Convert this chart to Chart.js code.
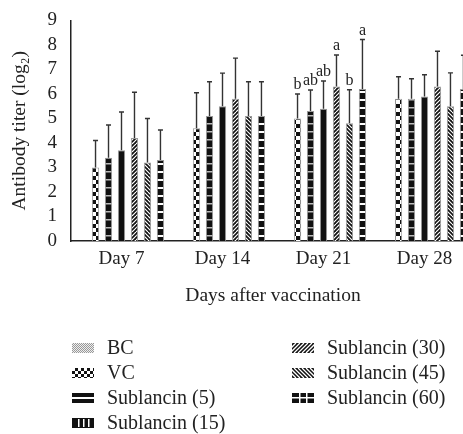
<!DOCTYPE html>
<html>
<head>
<meta charset="utf-8">
<script src="https://cdn.jsdelivr.net/npm/chart.js@4.4.1/dist/chart.umd.min.js"></script>
<style>
  body { margin: 0; background: #fff; }
  #wrap { position: relative; width: 463px; height: 434px; overflow: hidden; }
  #box { position: absolute; left: 0; top: 0; width: 480px; height: 312px; }
  #legend {
    position: absolute; left: 72px; top: 335px;
    display: grid; grid-auto-flow: column;
    grid-template-rows: repeat(4, 25px); grid-template-columns: 220px 200px;
    font-family: "Liberation Serif", serif; font-size: 20px; color: #222;
  }
  .item { display: flex; align-items: center; white-space: nowrap; }
  .item canvas { width: 22px; height: 10px; margin-right: 13px; }
</style>
</head>
<body>
<div id="wrap">
  <div id="box"><canvas id="titerChart"></canvas></div>
  <div id="legend"></div>
</div>
<script>
// data
const days = ["Day 7", "Day 14", "Day 21", "Day 28"];
const groups = ["BC", "VC", "Sublancin (5)", "Sublancin (15)", "Sublancin (30)", "Sublancin (45)", "Sublancin (60)"];

const bcMean  = [0, 0, 0, 0];
const vcMean  = [3.0, 4.6, 5.0, 5.8];
const s5Mean  = [3.4, 5.1, 5.3, 5.8];
const s15Mean = [3.7, 5.5, 5.4, 5.9];
const s30Mean = [4.2, 5.8, 6.3, 6.3];
const s45Mean = [3.2, 5.1, 4.8, 5.5];
const s60Mean = [3.3, 5.1, 6.2, 6.2];

const bcSd  = [0, 0, 0, 0];
const vcSd  = [1.1, 1.45, 1.0, 0.9];
const s5Sd  = [1.33, 1.4, 0.86, 0.82];
const s15Sd = [1.56, 1.35, 1.13, 0.88];
const s30Sd = [1.87, 1.66, 1.29, 1.44];
const s45Sd = [1.8, 1.4, 1.37, 1.36];
const s60Sd = [1.23, 1.4, 2.02, 1.38];

// significance letters (Day 21 only)
const letters = [
  ["", "", "", ""],
  ["", "", "b", ""],
  ["", "", "ab", ""],
  ["", "", "ab", ""],
  ["", "", "a", ""],
  ["", "", "b", ""],
  ["", "", "a", ""]
];

const yTicks = [0, 1, 2, 3, 4, 5, 6, 7, 8, 9];

const means = [bcMean, vcMean, s5Mean, s15Mean, s30Mean, s45Mean, s60Mean];
const sds = [bcSd, vcSd, s5Sd, s15Sd, s30Sd, s45Sd, s60Sd];

const serif = "'Liberation Serif', 'DejaVu Serif', serif";
const fontSize = 19;

//make a fill pattern from a small tile
function makePattern(kind, ctxTarget) {
  let c = document.createElement("canvas");
  let s = 8;
  c.width = s; c.height = s;
  let g = c.getContext("2d");
  g.fillStyle = "#111";
  g.fillRect(0, 0, s, s);
  g.fillStyle = "#fff";
  g.strokeStyle = "#fff";
  if (kind == "bc") {
    g.fillStyle = "#888";
    g.fillRect(0, 0, s, s);
    g.fillStyle = "#eee";
    for (let i = 0; i < s; i += 2) for (let j = 0; j < s; j += 2) {
      if (((i + j) / 2) % 2 == 0) g.fillRect(i, j, 2, 2);
    }
  } else if (kind == "vc") {
    g.fillRect(0, 0, 4, 4); g.fillRect(4, 4, 4, 4);
  } else if (kind == "s5") {
    g.fillStyle = "#bbb";
    g.fillRect(0, 3, s, 1.5);
  } else if (kind == "s15") {
    // solid
  } else if (kind == "s30") {
    g.lineWidth = 1.2;
    for (let k = -s; k <= 2 * s; k += 4) { g.beginPath(); g.moveTo(k, s); g.lineTo(k + s, 0); g.stroke(); }
  } else if (kind == "s45") {
    g.lineWidth = 1.2;
    for (let k = -s; k <= 2 * s; k += 4) { g.beginPath(); g.moveTo(k, 0); g.lineTo(k + s, s); g.stroke(); }
  } else if (kind == "s60") {
    g.fillRect(0, 3, s, 2);
  }
  return ctxTarget.createPattern(c, "repeat");
}

//legend swatches use their own little patterns
function drawSwatch(kind, cv) {
  cv.width = 22; cv.height = 10;
  let g = cv.getContext("2d");
  g.fillStyle = "#111"; g.fillRect(0, 0, 22, 10);
  g.fillStyle = "#fff"; g.strokeStyle = "#fff";
  if (kind == "bc") {
    g.fillStyle = "#999"; g.fillRect(0, 0, 22, 10);
    g.fillStyle = "#eee";
    for (let i = 0; i < 22; i++) for (let j = 0; j < 10; j++) if ((i + j) % 2 == 0) g.fillRect(i, j, 1, 1);
  } else if (kind == "vc") {
    for (let i = 0; i < 22; i += 3) for (let j = 0; j < 10; j += 3) if (((i + j) / 3) % 2 == 0) g.fillRect(i, j, 3, 3);
  } else if (kind == "s5") {
    g.fillRect(0, 4, 22, 2);
  } else if (kind == "s15") {
    g.fillRect(6, 1, 1.5, 8); g.fillRect(11, 1, 1.5, 8); g.fillRect(16, 1, 1.5, 8);
  } else if (kind == "s30") {
    g.lineWidth = 1.3;
    for (let k = -10; k < 32; k += 4) { g.beginPath(); g.moveTo(k, 10); g.lineTo(k + 10, 0); g.stroke(); }
  } else if (kind == "s45") {
    g.lineWidth = 1.3;
    for (let k = -10; k < 32; k += 4) { g.beginPath(); g.moveTo(k, 0); g.lineTo(k + 10, 10); g.stroke(); }
  } else if (kind == "s60") {
    g.fillRect(0, 4, 22, 1.5); g.fillRect(7, 0, 1.5, 10); g.fillRect(14, 0, 1.5, 10);
  }
}

const kinds = ["bc", "vc", "s5", "s15", "s30", "s45", "s60"];

//error bars + letters drawn over the bars
const errorBars = {
  id: "errorBars",
  afterDatasetsDraw(chart) {
    let ctx = chart.ctx, yScale = chart.scales.y;
    ctx.save();
    chart.data.datasets.forEach((ds, i) => {
      let meta = chart.getDatasetMeta(i);
      meta.data.forEach((bar, j) => {
        if (!sds[i][j]) return;
        let top = yScale.getPixelForValue(ds.data[j] + sds[i][j]);
        ctx.strokeStyle = "#333";
        ctx.lineWidth = 1.4;
        ctx.beginPath();
        ctx.moveTo(bar.x, bar.y);
        ctx.lineTo(bar.x, top);
        ctx.moveTo(bar.x - 2.5, top);
        ctx.lineTo(bar.x + 2.5, top);
        ctx.stroke();
        if (letters[i][j]) {
          ctx.fillStyle = "#222";
          ctx.font = "16px " + serif;
          ctx.textAlign = "center";
          ctx.textBaseline = "bottom";
          ctx.fillText(letters[i][j], bar.x, top - 1);
        }
      });
    });
    ctx.restore();
  }
};

let canvas = document.getElementById("titerChart");
let ctx = canvas.getContext("2d");

let myDatasets = groups.map((name, i) => ({
  label: name,
  data: means[i],
  backgroundColor: makePattern(kinds[i], ctx),
  borderColor: "#999",
  borderWidth: 1,
  categoryPercentage: 0.9,
  barPercentage: 0.56
}));

new Chart(ctx, {
  type: "bar",
  data: { labels: days, datasets: myDatasets },
  options: {
    responsive: true,
    maintainAspectRatio: false,
    animation: false,
    layout: { padding: { top: 19, right: 5, left: 0, bottom: 0 } },
    plugins: { legend: { display: false }, tooltip: { enabled: false } },
    scales: {
      x: {
        grid: { display: false, drawTicks: true, tickLength: 5, color: "#222" },
        border: { display: true, color: "#222", width: 1.5 },
        ticks: { color: "#222", font: { family: serif, size: fontSize }, padding: 2 },
        title: { display: true, text: "Days after vaccination", color: "#222",
                 font: { family: serif, size: 19.5 }, padding: { top: 6, bottom: 4 } },
        afterFit(scale) { scale.height = 71; }
      },
      y: {
        min: 0, max: 9,
        afterBuildTicks(scale) { scale.ticks = yTicks.map(v => ({ value: v })); },
        grid: { display: false, drawTicks: true, tickLength: 5 },
        border: { display: true, color: "#222", width: 1.5 },
        ticks: { color: "#222", font: { family: serif, size: fontSize }, padding: 9, autoSkip: false },
        title: { display: true, text: "Antibody titer (log\u2082)", color: "#222",
                 font: { family: serif, size: 19.5 }, padding: { top: 8, bottom: 0 } },
        afterFit(scale) { scale.width = 71; }
      }
    }
  },
  plugins: [errorBars]
});

//html legend, two columns
let legendBox = document.getElementById("legend");
groups.forEach((name, i) => {
  let item = document.createElement("div");
  item.className = "item";
  let sw = document.createElement("canvas");
  drawSwatch(kinds[i], sw);
  item.appendChild(sw);
  let label = document.createElement("span");
  label.textContent = name;
  item.appendChild(label);
  legendBox.appendChild(item);
});
</script>
</body>
</html>
